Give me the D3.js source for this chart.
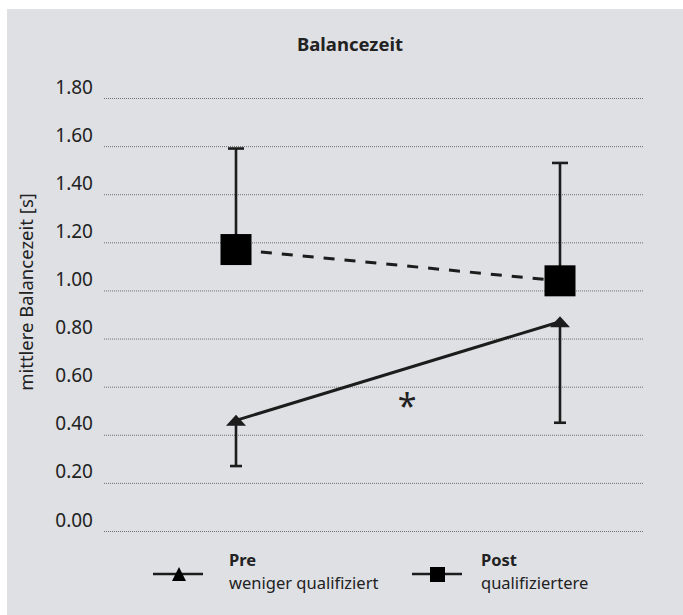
<!DOCTYPE html>
<html>
<head>
<meta charset="utf-8">
<script src="https://cdn.jsdelivr.net/npm/d3@7/dist/d3.min.js"></script>
<style>
  html, body { margin: 0; padding: 0; background: #fff; }
  svg text { font-family: "Noto Sans", "Open Sans", sans-serif; fill: #222; }
</style>
</head>
<body>
<div id="chart"></div>
<script>
// chart values
var chartTitle  = "Balancezeit";
var yLabel      = "mittlere Balancezeit [s]";
var yTicks      = [0, 0.2, 0.4, 0.6, 0.8, 1.0, 1.2, 1.4, 1.6, 1.8];
var timePoints  = [1, 2];
var seriesNames = ["Pre", "Post"];
var seriesSubs  = ["weniger qualifiziert", "qualifiziertere"];
var preMeans    = [0.46, 0.87];
var preLower    = [0.27, 0.45];   // error bar end, drawn downwards
var postMeans   = [1.17, 1.04];
var postUpper   = [1.59, 1.53];   // error bar end, drawn upwards

var W = 683, H = 615;

var svg = d3.select("#chart").append("svg")
    .attr("width", W)
    .attr("height", H);

// panel background
svg.append("rect")
    .attr("x", 7).attr("y", 9)
    .attr("width", W - 7).attr("height", H - 9)
    .attr("fill", "#dee0e4");

var plotLeft = 104, plotRight = 644;

var yScale = d3.scaleLinear().domain([0, 1.8]).range([531, 98]);
var xScale = d3.scaleLinear().domain([1, 2]).range([236, 560]);

// title
svg.append("text")
    .attr("x", 350).attr("y", 51)
    .attr("text-anchor", "middle")
    .style("font-weight", "bold")
    .style("font-size", "18.5px")
    .text(chartTitle);

// y axis with dotted gridlines, labels sitting above the lines
var yAxis = d3.axisLeft(yScale)
    .tickValues(yTicks)
    .tickFormat(d3.format(".2f"))
    .tickSizeInner(-(plotRight - plotLeft))
    .tickSizeOuter(0)
    .tickPadding(11);

var yAxisEl = svg.append("g")
    .attr("transform", "translate(" + plotLeft + ",0)")
    .call(yAxis);

yAxisEl.select(".domain").remove();
yAxisEl.selectAll(".tick line")
    .attr("stroke", "#6e6e6e")
    .attr("stroke-width", 1)
    .attr("stroke-dasharray", "1,1");
yAxisEl.selectAll(".tick text")
    .attr("dy", null)
    .attr("y", -5)
    .style("font-size", "19px")
    .style("font-family", "\"Noto Sans\", sans-serif")
    .attr("fill", "#222");

// y label
svg.append("text")
    .attr("transform", "translate(33,292) rotate(-90)")
    .attr("text-anchor", "middle")
    .style("font-size", "18.5px")
    .text(yLabel);

var ink = "#1c1c1c";

// error bars: post upwards, pre downwards
var errG = svg.append("g");
timePoints.forEach(function (t, i) {
  errG.append("line")
      .attr("x1", xScale(t)).attr("x2", xScale(t))
      .attr("y1", yScale(postMeans[i])).attr("y2", yScale(postUpper[i]))
      .attr("stroke", ink).attr("stroke-width", 2.6);
  errG.append("line")
      .attr("x1", xScale(t) - 8).attr("x2", xScale(t) + 8)
      .attr("y1", yScale(postUpper[i])).attr("y2", yScale(postUpper[i]))
      .attr("stroke", ink).attr("stroke-width", 2.6);
  errG.append("line")
      .attr("x1", xScale(t)).attr("x2", xScale(t))
      .attr("y1", yScale(preMeans[i])).attr("y2", yScale(preLower[i]))
      .attr("stroke", ink).attr("stroke-width", 2.6);
  errG.append("line")
      .attr("x1", xScale(t) - 6).attr("x2", xScale(t) + 6)
      .attr("y1", yScale(preLower[i])).attr("y2", yScale(preLower[i]))
      .attr("stroke", ink).attr("stroke-width", 2.6);
});

// lines
var line = d3.line()
    .x(function (d) { return xScale(d[0]); })
    .y(function (d) { return yScale(d[1]); });

svg.append("path")
    .datum(d3.zip(timePoints, postMeans))
    .attr("d", line)
    .attr("fill", "none")
    .attr("stroke", ink)
    .attr("stroke-width", 3)
    .attr("stroke-dasharray", "11,10")
    .attr("stroke-dashoffset", -4);

svg.append("path")
    .datum(d3.zip(timePoints, preMeans))
    .attr("d", line)
    .attr("fill", "none")
    .attr("stroke", ink)
    .attr("stroke-width", 3);

// markers
function triPath(w, h) {
  return "M0," + (-h / 2) + "L" + (w / 2) + "," + (h / 2) + "L" + (-w / 2) + "," + (h / 2) + "Z";
}

svg.append("g").selectAll("path")
    .data(d3.zip(timePoints, preMeans))
    .enter().append("path")
    .attr("transform", function (d) { return "translate(" + xScale(d[0]) + "," + yScale(d[1]) + ")"; })
    .attr("d", triPath(20, 11))
    .attr("fill", ink);

var sq = 31;
svg.append("g").selectAll("rect")
    .data(d3.zip(timePoints, postMeans))
    .enter().append("rect")
    .attr("x", function (d) { return xScale(d[0]) - sq / 2; })
    .attr("y", function (d) { return yScale(d[1]) - sq / 2; })
    .attr("width", sq).attr("height", sq)
    .attr("fill", "#000");

// significance mark
svg.append("text")
    .attr("x", 407).attr("y", 418)
    .attr("text-anchor", "middle")
    .style("font-size", "34px")
    .text("*");

// legend
var legend = svg.append("g");
var legItems = [
  { x: 153, name: seriesNames[0], sub: seriesSubs[0], mark: "tri", textX: 229 },
  { x: 412, name: seriesNames[1], sub: seriesSubs[1], mark: "sq", textX: 481 }
];
legItems.forEach(function (it) {
  legend.append("line")
      .attr("x1", it.x).attr("x2", it.x + 50)
      .attr("y1", 574).attr("y2", 574)
      .attr("stroke", ink).attr("stroke-width", 2.4);
  if (it.mark === "tri") {
    legend.append("path")
        .attr("transform", "translate(" + (it.x + 26) + ",574)")
        .attr("d", triPath(14, 14))
        .attr("fill", "#000");
  } else {
    legend.append("rect")
        .attr("x", it.x + 18).attr("y", 567)
        .attr("width", 15).attr("height", 15)
        .attr("fill", "#000");
  }
  legend.append("text")
      .attr("x", it.textX).attr("y", 566)
      .style("font-size", "16.5px")
      .style("font-weight", "bold")
      .text(it.name);
  legend.append("text")
      .attr("x", it.textX).attr("y", 589)
      .style("font-size", "16.5px")
      .text(it.sub);
});
</script>
</body>
</html>
